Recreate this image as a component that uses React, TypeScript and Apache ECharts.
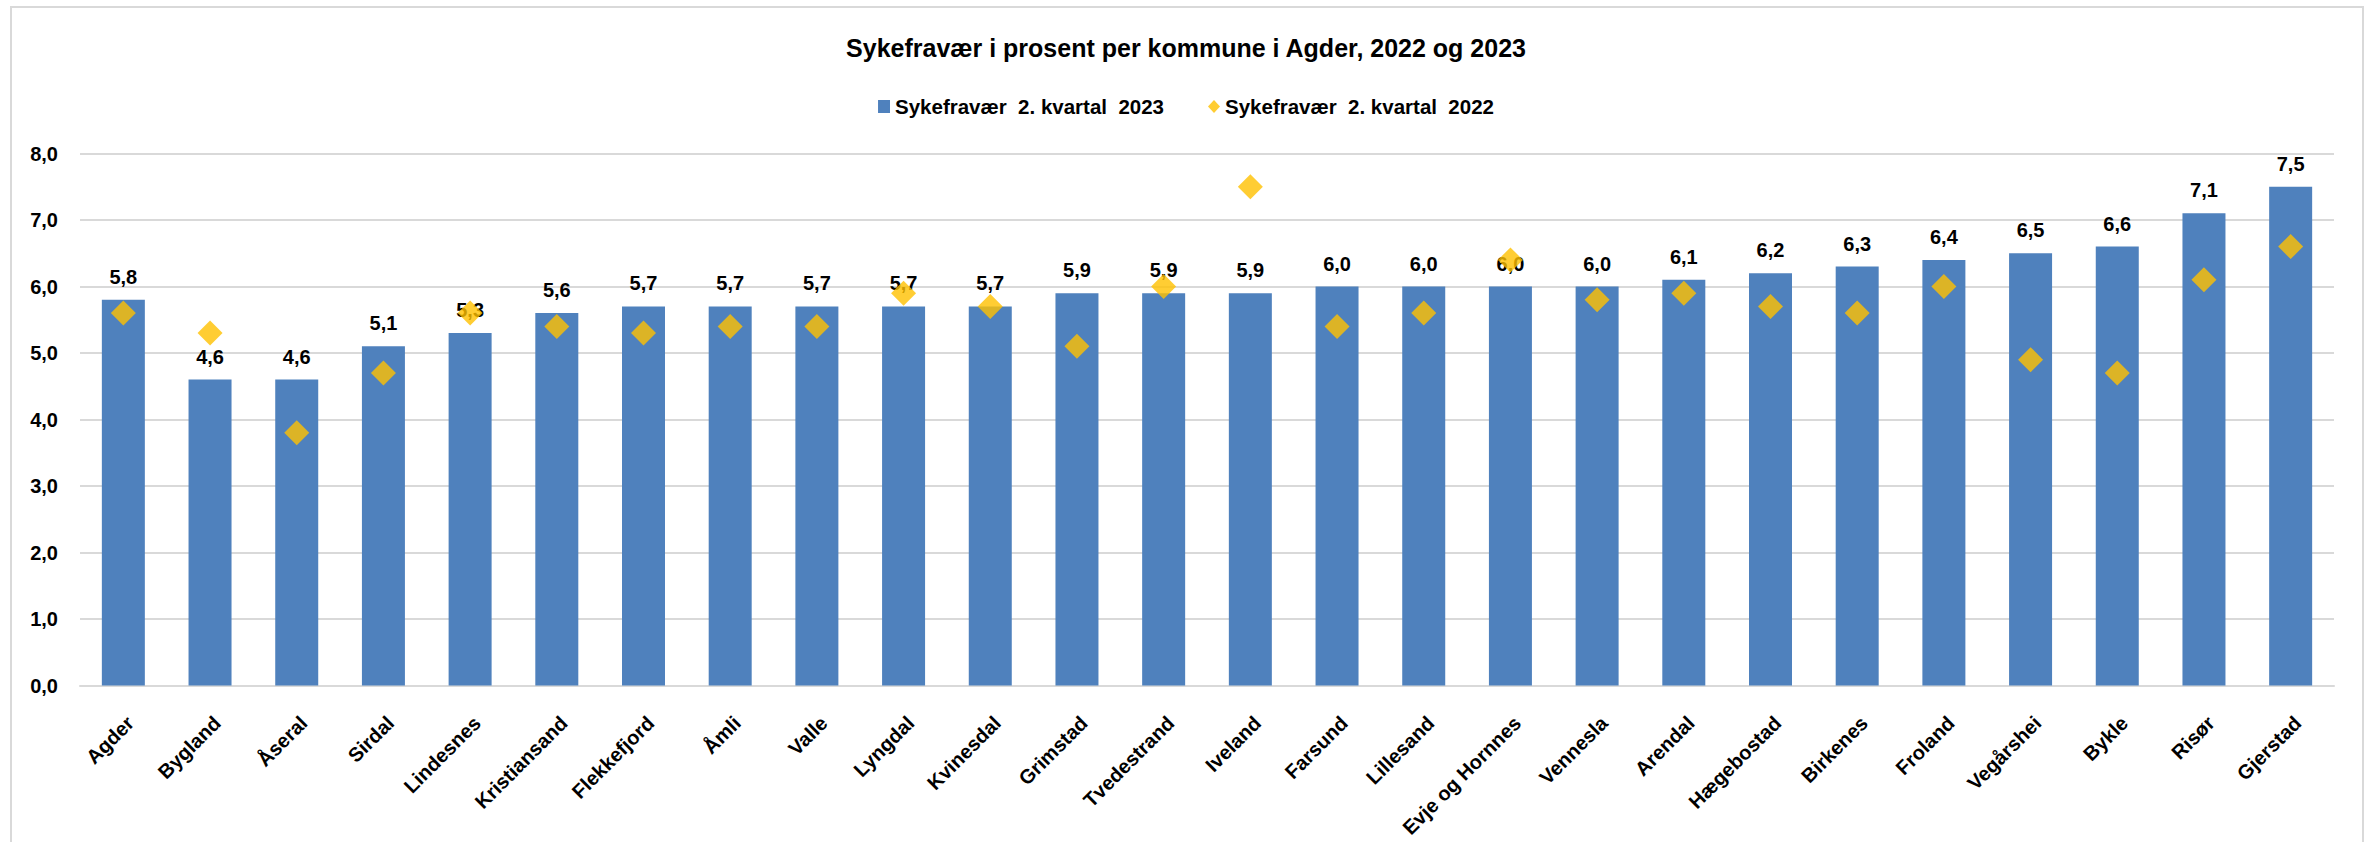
import React, { useEffect, useRef } from "react";
import * as echarts from "echarts";

const titleText = "Sykefravær i prosent per kommune i Agder, 2022 og 2023";
const series2023Name = "Sykefravær  2. kvartal  2023";
const series2022Name = "Sykefravær  2. kvartal  2022";

const categories = [
  "Agder", "Bygland", "Åseral", "Sirdal", "Lindesnes", "Kristiansand", "Flekkefjord",
  "Åmli", "Valle", "Lyngdal", "Kvinesdal", "Grimstad", "Tvedestrand", "Iveland",
  "Farsund", "Lillesand", "Evje og Hornnes", "Vennesla", "Arendal", "Hægebostad",
  "Birkenes", "Froland", "Vegårshei", "Bykle", "Risør", "Gjerstad",
];

const values2023 = [
  5.8, 4.6, 4.6, 5.1, 5.3, 5.6, 5.7, 5.7, 5.7, 5.7, 5.7, 5.9, 5.9, 5.9,
  6.0, 6.0, 6.0, 6.0, 6.1, 6.2, 6.3, 6.4, 6.5, 6.6, 7.1, 7.5,
];

const values2022 = [
  5.6, 5.3, 3.8, 4.7, 5.6, 5.4, 5.3, 5.4, 5.4, 5.9, 5.7, 5.1, 6.0, 7.5,
  5.4, 5.6, 6.4, 5.8, 5.9, 5.7, 5.6, 6.0, 4.9, 4.7, 6.1, 6.6,
];

const yMin = 0;
const yMax = 8;
const yInterval = 1;

const FONT = "'Liberation Sans', Arial, sans-serif";
const fmt = (v: number) => v.toFixed(1).replace(".", ",");

export default function App() {
  const ref = useRef<HTMLDivElement>(null);

  useEffect(() => {
    if (!ref.current) return;
    const chart = echarts.init(ref.current, undefined, { renderer: "svg" });
    chart.setOption({
      animation: false,
      backgroundColor: "#ffffff",
      textStyle: { fontFamily: FONT },
      graphic: [
        {
          type: "rect",
          shape: { x: 11, y: 7, width: 2352, height: 900 },
          style: { fill: "none", stroke: "#d9d9d9", lineWidth: 2 },
          silent: true,
        },
      ],
      title: {
        text: titleText,
        left: "center",
        top: 30,
        textStyle: { fontFamily: FONT, fontSize: 25, fontWeight: "bold", color: "#000" },
      },
      legend: {
        top: 91,
        left: "center",
        itemGap: 44,
        itemWidth: 12,
        itemHeight: 13,
        textStyle: { fontFamily: FONT, fontSize: 20.5, fontWeight: "bold", color: "#000" },
        data: [
          { name: series2023Name, icon: "rect" },
          { name: series2022Name, icon: "diamond" },
        ],
      },
      grid: { left: 80, right: 38, top: 153.5, bottom: 156.5, containLabel: false },
      xAxis: {
        type: "category",
        data: categories,
        axisLine: { lineStyle: { color: "#d9d9d9", width: 2 } },
        axisTick: { show: false },
        axisLabel: {
          rotate: 45,
          interval: 0,
          margin: 27,
          align: "right",
          verticalAlign: "top",
          fontFamily: FONT,
          fontSize: 20,
          fontWeight: "bold",
          color: "#000",
        },
      },
      yAxis: {
        type: "value",
        min: yMin,
        max: yMax,
        interval: yInterval,
        axisLine: { show: false },
        axisTick: { show: false },
        splitLine: { lineStyle: { color: "#d9d9d9", width: 2 } },
        axisLabel: {
          margin: 22,
          formatter: (v: number) => fmt(v),
          fontFamily: FONT,
          fontSize: 20,
          fontWeight: "bold",
          color: "#000",
        },
      },
      series: [
        {
          name: series2023Name,
          type: "bar",
          data: values2023,
          barWidth: 43,
          itemStyle: { color: "#4F81BD" },
          label: {
            show: true,
            position: "top",
            distance: 13,
            formatter: (p: any) => fmt(p.value),
            fontFamily: FONT,
            fontSize: 20,
            fontWeight: "bold",
            color: "#000",
          },
        },
        {
          name: series2022Name,
          type: "scatter",
          data: values2022,
          symbol: "diamond",
          symbolSize: [25, 25],
          itemStyle: { color: "#FFC000" },
          z: 3,
        },
      ],
    });
    return () => chart.dispose();
  }, []);

  return (
    <div
      ref={ref}
      style={{ position: "absolute", left: 0, top: 0, width: 2372, height: 842 }}
    />
  );
}
